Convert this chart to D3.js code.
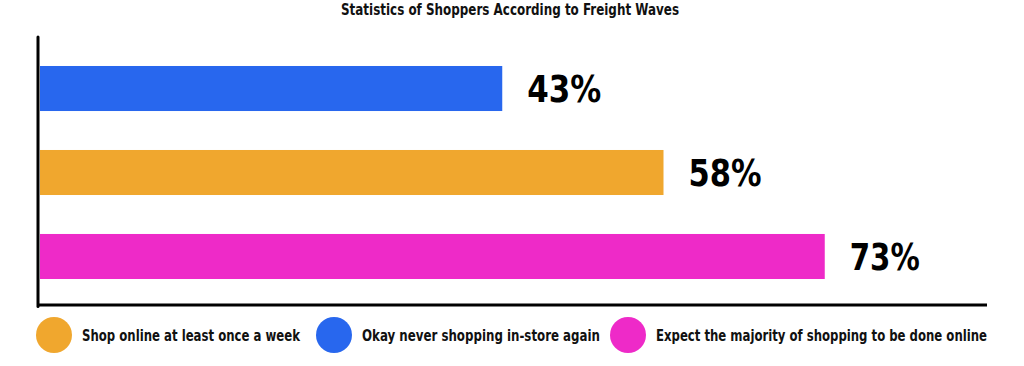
<!DOCTYPE html>
<html>
<head>
<meta charset="utf-8">
<script src="https://cdn.jsdelivr.net/npm/d3@7"></script>
<style>
  body { margin: 0; background: #fff; }
  text { font-family: "DejaVu Sans", "Roboto", sans-serif; font-stretch: condensed; font-weight: bold; }
</style>
</head>
<body>
<svg id="chart"></svg>
<script>
var categories = ["Okay never shopping in-store again", "Shop online at least once a week", "Expect the majority of shopping to be done online"];
var values = [43, 58, 73];
var barColors = ["#2867ee", "#f0a72e", "#ee2ac8"];
var legendOrder = [1, 0, 2];
var title = "Statistics of Shoppers According to Freight Waves";

drawChart("#chart");

function drawChart(id){
	var svgWidth = 1024;
	var svgHeight = 366;
	var left = 40, right = 987, top = 37, bottom = 305;
	var labelWidth = [74, 73, 70];
	var legendX = [54, 334, 628];
	var legendWidth = [218, 238, 331];

	var svg = d3.select(id)
		.attr("width", svgWidth)
		.attr("height", svgHeight);

	var x = d3.scaleLinear()
		.domain([0, 100])
		.range([left, left + 1075]);

	var y = d3.scaleBand()
		.domain(categories)
		.range([45, 300])
		.paddingInner(0.464)
		.paddingOuter(0.25);

	svg.append("text")
		.attr("x", 341)
		.attr("y", 15)
		.attr("font-size", "15px")
		.attr("fill", "#111")
		.attr("textLength", 338)
		.attr("lengthAdjust", "spacingAndGlyphs")
		.text(title);

	svg.selectAll("rect.bar")
		.data(values)
		.enter()
		.append("rect")
		.attr("class", "bar")
		.attr("x", x(0))
		.attr("y", function(d, i){ return y(categories[i]); })
		.attr("width", function(d){ return x(d) - x(0); })
		.attr("height", y.bandwidth())
		.attr("fill", function(d, i){ return barColors[i]; });

	svg.selectAll("text.rate")
		.data(values)
		.enter()
		.append("text")
		.attr("class", "rate")
		.attr("x", function(d){ return x(d) + 25; })
		.attr("y", function(d, i){ return y(categories[i]) + y.bandwidth() / 2 + 13.5; })
		.attr("font-size", "37px")
		.attr("fill", "#000")
		.attr("textLength", function(d, i){ return labelWidth[i]; })
		.attr("lengthAdjust", "spacingAndGlyphs")
		.text(function(d){ return d + "%"; });

	// axes
	svg.append("line")
		.attr("x1", 38).attr("x2", 38)
		.attr("y1", top).attr("y2", bottom + 1.5)
		.attr("stroke", "#000").attr("stroke-width", 3)
		.attr("stroke-linecap", "round");
	svg.append("line")
		.attr("x1", 38).attr("x2", right)
		.attr("y1", bottom).attr("y2", bottom)
		.attr("stroke", "#000").attr("stroke-width", 3);

	// legend
	var legend = svg.selectAll("g.legend")
		.data(legendOrder)
		.enter()
		.append("g")
		.attr("class", "legend")
		.attr("transform", function(d, i){ return "translate(" + legendX[i] + ",335)"; });
	legend.append("circle")
		.attr("r", 18)
		.attr("fill", function(d){ return barColors[d]; });
	legend.append("text")
		.attr("x", 28)
		.attr("y", 6)
		.attr("font-size", "16px")
		.attr("fill", "#111")
		.attr("textLength", function(d, i){ return legendWidth[i]; })
		.attr("lengthAdjust", "spacingAndGlyphs")
		.text(function(d){ return categories[d]; });
}
</script>
</body>
</html>
